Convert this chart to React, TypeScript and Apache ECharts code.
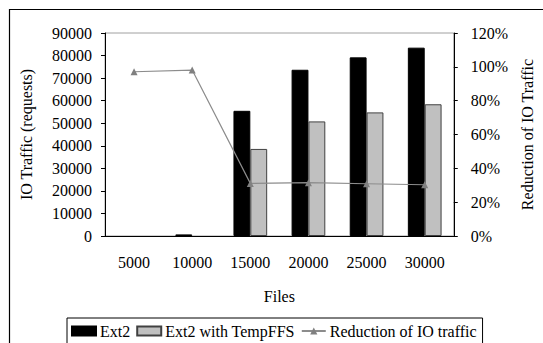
import React, { useEffect, useRef } from "react";
import * as echarts from "echarts";

const categories = ["5000", "10000", "15000", "20000", "25000", "30000"];
const ext2 = [0, 700, 55500, 73700, 79200, 83500];
const ext2Temp = [0, 0, 38600, 50800, 54800, 58400];
const reduction = [0.971, 0.981, 0.311, 0.315, 0.309, 0.303];

const FONT = "'Liberation Serif', 'Times New Roman', serif";
const FS = 16;

const barData = (vals: number[]) =>
  vals.map((v) => (v === 0 ? { value: v, itemStyle: { borderWidth: 0, opacity: 0 } } : v));

export default function App() {
  const ref = useRef<HTMLDivElement>(null);
  useEffect(() => {
    if (!ref.current) return;
    const chart = echarts.init(ref.current, null, { renderer: "svg" });
    chart.setOption({
      animation: false,
      backgroundColor: "#fff",
      textStyle: { fontFamily: FONT, color: "#000", fontSize: FS },
      grid: {
        left: 105,
        right: 86,
        top: 33,
        bottom: 107,
        show: true,
        borderColor: "#a0a0a0",
        borderWidth: 1,
      },
      graphic: [
        {
          type: "rect",
          shape: { x: 9.5, y: 9.5, width: 600, height: 400 },
          style: { fill: "none", stroke: "#000", lineWidth: 1.2 },
          silent: true,
        },
      ],
      legend: {
        top: 318,
        left: 67,
        orient: "horizontal",
        itemWidth: 24,
        itemHeight: 9,
        itemGap: 6,
        padding: [5, 6, 8, 4],
        borderColor: "#000",
        borderWidth: 1,
        textStyle: { fontFamily: FONT, fontSize: FS, color: "#000", padding: [0, 0, 0, -1] },
        data: [
          { name: "Ext2", icon: "rect" },
          { name: "Ext2 with TempFFS", icon: "rect" },
          { name: "Reduction of IO traffic" },
        ],
      },
      xAxis: {
        type: "category",
        data: categories,
        name: "Files",
        nameLocation: "middle",
        nameGap: 52,
        nameTextStyle: { fontFamily: FONT, fontSize: FS, color: "#000" },
        axisLine: { lineStyle: { color: "#000", width: 1 } },
        axisTick: { inside: true, length: 5, lineStyle: { color: "#000" } },
        axisLabel: { margin: 18, fontFamily: FONT, fontSize: FS, color: "#000" },
      },
      yAxis: [
        {
          type: "value",
          min: 0,
          max: 90000,
          interval: 10000,
          name: "IO Traffic (requests)",
          nameLocation: "middle",
          nameGap: 71,
          nameTextStyle: { fontFamily: FONT, fontSize: FS, color: "#000" },
          axisLine: { show: true, lineStyle: { color: "#000" } },
          axisTick: { show: true, length: 4, lineStyle: { color: "#000" } },
          axisLabel: {
            margin: 13,
            fontFamily: FONT,
            fontSize: FS,
            color: "#000",
            formatter: (v: number) => String(v),
          },
          splitLine: { show: false },
        },
        {
          type: "value",
          min: 0,
          max: 1.2,
          interval: 0.2,
          position: "right",
          name: "Reduction of IO Traffic",
          nameLocation: "middle",
          nameGap: 64,
          nameTextStyle: { fontFamily: FONT, fontSize: FS, color: "#000" },
          axisLine: { show: true, lineStyle: { color: "#000" } },
          axisTick: { show: true, length: 4, lineStyle: { color: "#000" } },
          axisLabel: {
            margin: 17,
            fontFamily: FONT,
            fontSize: FS,
            color: "#000",
            formatter: (v: number) => Math.round(v * 100) + "%",
          },
          splitLine: { show: false },
        },
      ],
      series: [
        {
          name: "Ext2",
          type: "bar",
          data: barData(ext2),
          barGap: "0%",
          barCategoryGap: "42%",
          itemStyle: { color: "#000", borderColor: "#000", borderWidth: 1 },
        },
        {
          name: "Ext2 with TempFFS",
          type: "bar",
          data: barData(ext2Temp),
          itemStyle: { color: "#c0c0c0", borderColor: "#404040", borderWidth: 1 },
        },
        {
          name: "Reduction of IO traffic",
          type: "line",
          yAxisIndex: 1,
          data: reduction,
          symbol: "triangle",
          symbolSize: 7,
          lineStyle: { color: "#8c8c8c", width: 1.2 },
          itemStyle: { color: "#808080" },
        },
      ],
    });
    return () => chart.dispose();
  }, []);
  return (
    <div
      ref={ref}
      style={{ position: "fixed", left: 0, top: 0, width: 543, height: 343 }}
    />
  );
}
